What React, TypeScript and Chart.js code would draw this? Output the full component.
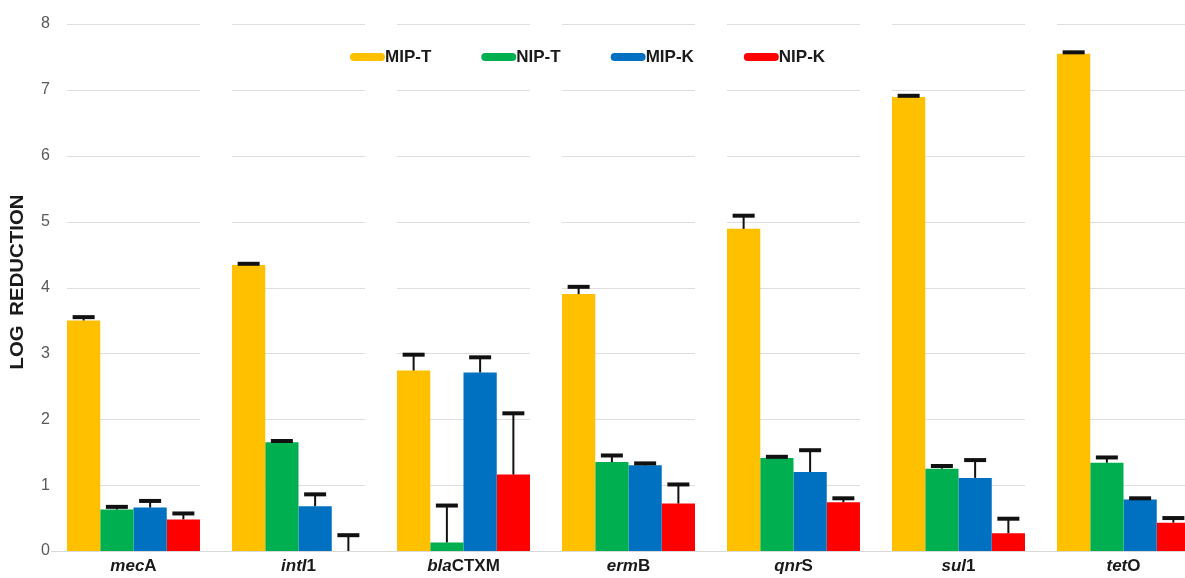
import React, { useEffect, useRef } from "react";
import { Chart, registerables } from "chart.js";

Chart.register(...registerables);

// ---- data ----
const categories = ["mecA", "intI1", "blaCTXM", "ermB", "qnrS", "sul1", "tetO"];
const italicParts = ["mec", "intI", "bla", "erm", "qnr", "sul", "tet"];
const seriesNames = ["MIP-T", "NIP-T", "MIP-K", "NIP-K"];
const seriesColors = ["#FFC000", "#00B050", "#0070C0", "#FF0000"];

const mipT = [3.5, 4.34, 2.74, 3.9, 4.89, 6.89, 7.55];
const mipTErr = [0.05, 0.02, 0.24, 0.11, 0.2, 0.02, 0.02];
const nipT = [0.63, 1.65, 0.13, 1.35, 1.41, 1.25, 1.34];
const nipTErr = [0.04, 0.02, 0.56, 0.1, 0.02, 0.04, 0.08];
const mipK = [0.66, 0.68, 2.71, 1.3, 1.2, 1.11, 0.78];
const mipKErr = [0.1, 0.18, 0.23, 0.03, 0.33, 0.27, 0.02];
const nipK = [0.48, 0, 1.16, 0.72, 0.74, 0.27, 0.43];
const nipKErr = [0.09, 0.24, 0.93, 0.29, 0.06, 0.22, 0.07];

const yTicks = [0, 1, 2, 3, 4, 5, 6, 7, 8];
const yTitleWords = ["LOG", "REDUCTION"];

const seriesValues = [mipT, nipT, mipK, nipK];
const seriesErrors = [mipTErr, nipTErr, mipKErr, nipKErr];

const FONT = "'Liberation Sans', Arial, sans-serif";
const CAT_PCT = 0.806;

const gridPlugin = {
  id: "segGrid",
  beforeDatasetsDraw(chart: any) {
    const ctx = chart.ctx;
    const xs = chart.scales.x;
    const ys = chart.scales.y;
    const catW = xs.width / categories.length;
    const half = (catW * CAT_PCT) / 2;
    ctx.save();
    ctx.strokeStyle = "#dedede";
    ctx.lineWidth = 1;
    yTicks.forEach((v) => {
      if (v === 0) return;
      const y = Math.round(ys.getPixelForValue(v)) + 0.5;
      categories.forEach((_, j) => {
        const c = xs.getPixelForValue(j);
        ctx.beginPath();
        ctx.moveTo(c - half, y);
        ctx.lineTo(c + half, y);
        ctx.stroke();
      });
    });
    ctx.restore();
  },
};

const errorPlugin = {
  id: "errBars",
  afterDatasetsDraw(chart: any) {
    const ctx = chart.ctx;
    const ys = chart.scales.y;
    ctx.save();
    ctx.strokeStyle = "#111";
    seriesValues.forEach((vals, i) => {
      const meta = chart.getDatasetMeta(i);
      meta.data.forEach((el: any, j: number) => {
        const top = ys.getPixelForValue(vals[j]);
        const ey = ys.getPixelForValue(vals[j] + seriesErrors[i][j]);
        ctx.lineWidth = 2;
        ctx.beginPath();
        ctx.moveTo(el.x, top);
        ctx.lineTo(el.x, ey);
        ctx.stroke();
        ctx.lineWidth = 4;
        ctx.beginPath();
        ctx.moveTo(el.x - 11, ey);
        ctx.lineTo(el.x + 11, ey);
        ctx.stroke();
      });
    });
    ctx.restore();
  },
};

const labelPlugin = {
  id: "xLabels",
  afterDraw(chart: any) {
    const ctx = chart.ctx;
    const xs = chart.scales.x;
    const y = chart.chartArea.bottom + 15;
    ctx.save();
    ctx.fillStyle = "#1a1a1a";
    ctx.textBaseline = "middle";
    ctx.textAlign = "left";
    categories.forEach((cat, j) => {
      const it = italicParts[j];
      const rest = cat.slice(it.length);
      ctx.font = `italic bold 17px ${FONT}`;
      const w1 = ctx.measureText(it).width;
      ctx.font = `bold 17px ${FONT}`;
      const w2 = ctx.measureText(rest).width;
      const x0 = xs.getPixelForValue(j) - (w1 + w2) / 2;
      ctx.font = `italic bold 17px ${FONT}`;
      ctx.fillText(it, x0, y);
      ctx.font = `bold 17px ${FONT}`;
      ctx.fillText(rest, x0 + w1, y);
    });
    ctx.restore();
  },
};

const titlePlugin = {
  id: "yTitle",
  afterDraw(chart: any) {
    const ctx = chart.ctx;
    ctx.save();
    ctx.font = `bold 19px ${FONT}`;
    ctx.fillStyle = "#1a1a1a";
    ctx.textBaseline = "middle";
    ctx.textAlign = "left";
    const gap = 9;
    const widths = yTitleWords.map((w) => ctx.measureText(w).width);
    const natural = widths[0] + gap + widths[1];
    const target = 175;
    const sx = target / natural;
    ctx.translate(18, 282);
    ctx.rotate(-Math.PI / 2);
    ctx.scale(sx, 1);
    let x = -natural / 2;
    ctx.fillText(yTitleWords[0], x, 0);
    x += widths[0] + gap;
    ctx.fillText(yTitleWords[1], x, 0);
    ctx.restore();
  },
};

const legendPlugin = {
  id: "customLegend",
  afterDraw(chart: any) {
    const ctx = chart.ctx;
    let x = 350;
    const y = 57;
    ctx.save();
    ctx.font = `bold 17px ${FONT}`;
    ctx.textBaseline = "middle";
    ctx.textAlign = "left";
    seriesNames.forEach((name, i) => {
      ctx.strokeStyle = seriesColors[i];
      ctx.lineWidth = 8;
      ctx.lineCap = "round";
      ctx.beginPath();
      ctx.moveTo(x + 4, y);
      ctx.lineTo(x + 31, y);
      ctx.stroke();
      ctx.fillStyle = "#1a1a1a";
      ctx.fillText(name, x + 35, y);
      x += 35 + ctx.measureText(name).width + 50;
    });
    ctx.restore();
  },
};

export default function App() {
  const ref = useRef<HTMLCanvasElement | null>(null);

  useEffect(() => {
    if (!ref.current) return;
    const chart = new Chart(ref.current, {
      type: "bar",
      data: {
        labels: categories,
        datasets: seriesNames.map((name, i) => ({
          label: name,
          data: seriesValues[i],
          backgroundColor: seriesColors[i],
          borderWidth: 0,
          categoryPercentage: CAT_PCT,
          barPercentage: 1,
        })),
      },
      options: {
        animation: false,
        responsive: false,
        devicePixelRatio: 1,
        layout: { padding: { top: 24, right: 4, left: 0, bottom: 0 } },
        plugins: {
          legend: { display: false },
          tooltip: { enabled: false },
        },
        scales: {
          x: {
            grid: { display: false, drawTicks: false },
            border: { display: true, color: "#d9d9d9", width: 1 },
            ticks: { display: false },
            afterFit: (s: any) => {
              s.height = 27;
            },
          },
          y: {
            min: 0,
            max: 8,
            grid: { display: false, drawTicks: false },
            border: { display: false },
            ticks: {
              stepSize: 1,
              padding: 1,
              color: "#595959",
              font: { family: FONT, size: 16 },
            },
            title: { display: false },
            afterFit: (s: any) => {
              s.width = 51;
            },
          },
        },
      },
      plugins: [gridPlugin, errorPlugin, labelPlugin, titlePlugin, legendPlugin],
    });
    return () => chart.destroy();
  }, []);

  return (
    <div
      style={{
        position: "fixed",
        left: 0,
        top: 0,
        width: 1185,
        height: 578,
        overflow: "hidden",
        background: "#fff",
      }}
    >
      <canvas
        ref={ref}
        width={1210}
        height={578}
        style={{ display: "block", width: 1210, height: 578 }}
      />
    </div>
  );
}
